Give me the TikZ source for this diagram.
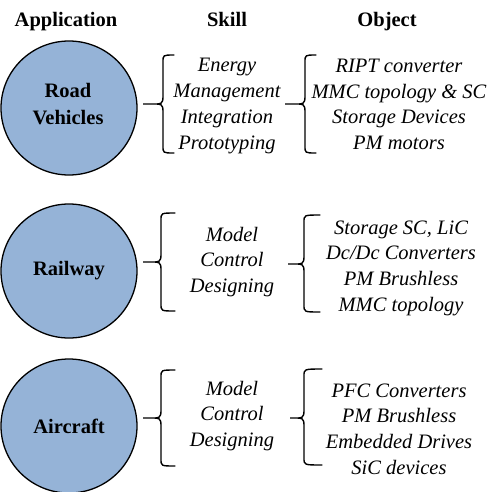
\documentclass[tikz,border=0pt]{standalone}
\usepackage{fontspec}
\setmainfont{Liberation Serif}
\usetikzlibrary{shapes.geometric}
\definecolor{appblue}{HTML}{95B3D7}
\newcommand\bracepath[6]{% tipx vx hookx top mid bottom
  \draw[bracestyle] (#3,#4) .. controls (#2,#4) .. (#2,{#4+7}) -- (#2,{#5-7})
    .. controls (#2,#5) and ({#2-3},#5) .. ({#2-7},#5) -- (#1,#5)
    -- ({#2-7},#5) .. controls ({#2-3},#5) and (#2,#5) .. (#2,{#5+7})
    -- (#2,{#6-7}) .. controls (#2,#6) .. (#3,#6);}
\begin{document}
\begin{tikzpicture}[x=1pt,y=-1pt,
  app/.style={ellipse, draw=black, line width=1.3pt, fill=appblue,
    minimum width=136pt, minimum height=134pt, inner sep=0pt,
    align=center, font=\bfseries\fontsize{20.5}{27}\selectfont},
  head/.style={anchor=base, font=\bfseries\fontsize{20.5}{25}\selectfont},
  item/.style={align=center, font=\itshape\fontsize{20.5}{25.7}\selectfont, inner sep=0pt},
  bracestyle/.style={line width=1.4pt, line cap=round}]
\useasboundingbox (0,0) rectangle (492,491);
\begin{scope}
\clip (0,0) rectangle (492,491);
\node[app] (road) at (69,108) {};
\node[app] (rail) at (69,271) {Railway};
\node[app] (air) at (69,426) {Aircraft};
\end{scope}
\node[align=center, inner sep=0pt, font=\bfseries\fontsize{20.5}{27}\selectfont] (roadtxt) at (68,104) {Road\\Vehicles};

\node[head] (happ) at (66,26) {Application};
\node[head] (hskill) at (227,26) {Skill};
\node[head] (hobj) at (387,26) {Object};

\node[item] (s1) at (227,106) {Energy\\Management\\Integration\\Prototyping};
\node[item] (o1) at (399,104.5) {RIPT converter\\MMC topology \& SC\\Storage Devices\\PM motors};
\node[item] (s2) at (232,262) {Model\\Control\\Designing};
\node[item] (o2) at (401,268) {Storage SC, LiC\\Dc/Dc Converters\\PM Brushless\\MMC topology};
\node[item] (s3) at (232,416) {Model\\Control\\Designing};
\node[item] (o3) at (399,429) {PFC Converters\\PM Brushless\\Embedded Drives\\SiC devices};

\bracepath{143}{163}{174}{55}{104}{153}
\bracepath{285}{305}{316}{55}{104}{153}
\bracepath{143}{161}{175}{213}{262}{311}
\bracepath{288}{304}{320}{215}{264}{312}
\bracepath{143}{161}{175}{370}{418}{466}
\bracepath{290}{304}{322}{369}{418}{465}
\end{tikzpicture}
\end{document}
